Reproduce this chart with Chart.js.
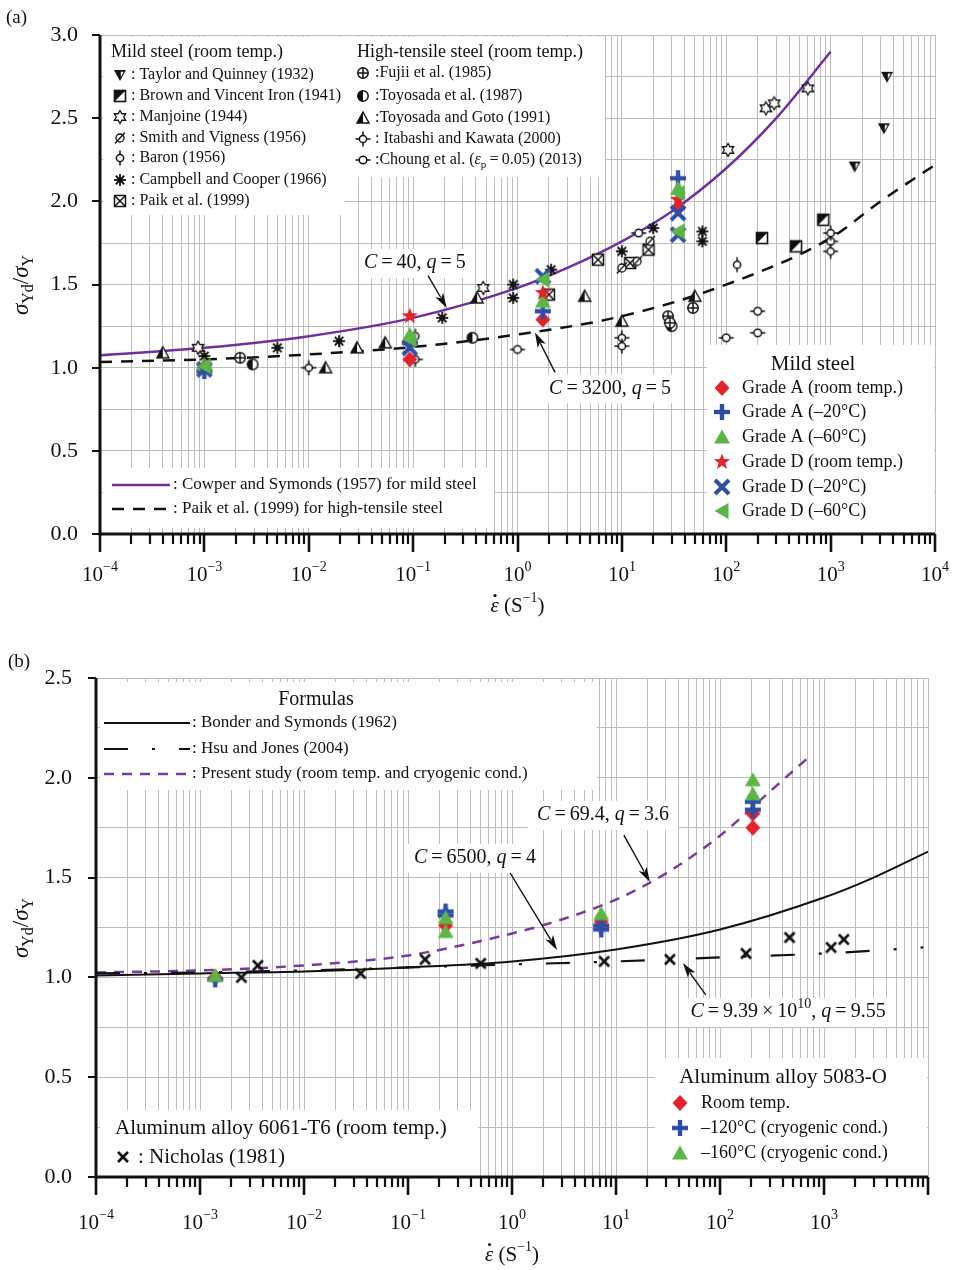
<!DOCTYPE html>
<html>
<head>
<meta charset="utf-8">
<script src="https://cdn.jsdelivr.net/npm/chart.js@4.4.1/dist/chart.umd.min.js"></script>
<style>
  body { margin: 0; background: #fff; width: 956px; height: 1270px; overflow: hidden; }
  canvas { display: block; }
</style>
</head>
<body>
<canvas id="chartA" width="956" height="640"></canvas>
<canvas id="chartB" width="956" height="630"></canvas>
<script>
// ---------- panel (a): mild / high-tensile steel ----------
const xExpA = [-4, -3, -2, -1, 0, 1, 2, 3, 4];
const xExpB = [-4, -3, -2, -1, 0, 1, 2, 3];

const cowperSymonds = [[1e-4, 1.075], [1e-3, 1.12], [1e-2, 1.19], [0.1, 1.30], [1, 1.48], [3, 1.60], [10, 1.76], [30, 1.94], [100, 2.20], [300, 2.50], [1000, 2.90]];
const paikCurve = [[1e-4, 1.035], [1e-3, 1.05], [1e-2, 1.08], [0.1, 1.125], [1, 1.20], [10, 1.31], [100, 1.50], [1000, 1.78], [3000, 2.00], [1e4, 2.22]];

const taylorQuinney = [[3470, 2.75], [3240, 2.44], [1700, 2.21]];
const brownVincent = [[850, 1.89], [220, 1.78], [466, 1.73]];
const manjoine = [[605, 2.68], [240, 2.56], [288, 2.59], [104, 2.31], [0.47, 1.48], [8.7e-4, 1.12]];
const smithVigness = [[10, 1.60], [14, 1.64], [18.6, 1.76]];
const baron = [[127, 1.62], [0.105, 1.19]];
const campbellCooper = [[1.0e-3, 1.07], [5.0e-3, 1.12], [0.0195, 1.16], [0.19, 1.30], [0.91, 1.50], [0.91, 1.42], [2.1, 1.59], [10, 1.70], [20, 1.84], [59, 1.82], [59, 1.76]];
const paikPoints = [[2.0, 1.44], [5.9, 1.65], [18, 1.71], [12, 1.63]];
const fujii = [[2.2e-3, 1.06], [27.7, 1.31], [28.8, 1.27], [48, 1.36]];
const toyosada = [[2.9e-3, 1.02], [0.37, 1.18], [30, 1.25]];
const toyosadaGoto = [[4.0e-4, 1.09], [0.0145, 1.00], [0.029, 1.12], [0.054, 1.15], [0.41, 1.42], [4.4, 1.43], [10, 1.28], [50, 1.43]];
const itabashi = [[0.01, 1.00], [0.105, 1.05], [10, 1.18], [10, 1.13], [1000, 1.81], [1000, 1.70]];
const choung = [[1.0, 1.11], [100, 1.18], [200, 1.34], [200, 1.21], [14.5, 1.81], [1000, 1.76]];

const gradeARoom = [[1.0e-3, 1.00], [0.093, 1.05], [1.75, 1.29], [34.5, 1.96]];
const gradeAm20 = [[1.0e-3, 0.98], [0.093, 1.15], [1.75, 1.34], [34.5, 2.14]];
const gradeAm60 = [[1.0e-3, 1.02], [0.093, 1.20], [1.75, 1.40], [34.5, 2.08]];
const gradeDRoom = [[1.0e-3, 1.00], [0.093, 1.31], [1.75, 1.45], [34.5, 2.01]];
const gradeDm20 = [[1.0e-3, 0.99], [0.093, 1.12], [1.75, 1.55], [34.5, 1.93], [34.5, 1.80]];
const gradeDm60 = [[1.0e-3, 1.01], [0.093, 1.17], [1.75, 1.53], [34.5, 2.05], [34.5, 1.82]];

// ---------- panel (b): aluminium alloys ----------
const bonderSymonds = [[1e-4, 1.01], [1e-3, 1.02], [1e-2, 1.03], [0.1, 1.05], [1, 1.08], [10, 1.14], [100, 1.24], [1000, 1.40], [3000, 1.50], [1e4, 1.63]];
const hsuJones = [[1e-4, 1.02], [1e-3, 1.025], [1e-2, 1.035], [0.1, 1.05], [1, 1.065], [10, 1.08], [100, 1.10], [1000, 1.12], [9000, 1.15]];
const presentStudy = [[1e-4, 1.025], [1e-3, 1.035], [1e-2, 1.06], [0.1, 1.11], [1, 1.22], [3, 1.29], [10, 1.39], [30, 1.52], [100, 1.71], [300, 1.93], [700, 2.10]];

const alRoom = [[1.4e-3, 1.00], [0.23, 1.26], [7.2, 1.28], [207, 1.82], [207, 1.75]];
const alM120 = [[1.4e-3, 0.99], [0.23, 1.33], [0.23, 1.31], [7.2, 1.26], [7.2, 1.24], [207, 1.88], [207, 1.84]];
const alM160 = [[1.4e-3, 1.01], [0.23, 1.30], [0.23, 1.23], [7.2, 1.32], [207, 1.99], [207, 1.92]];
const nicholas = [[2.5e-3, 1.00], [3.6e-3, 1.06], [0.035, 1.02], [0.146, 1.09], [0.50, 1.07], [7.7, 1.08], [33, 1.09], [178, 1.12], [466, 1.20], [1170, 1.15], [1550, 1.19]];

// ---------- styling ----------
const SERIF = '"Liberation Serif", "Times New Roman", serif';
const INK = '#111';
const RED = '#e3222b';
const BLUE = '#2f4ea8';
const GREEN = '#5cb646';
const PURPLE = '#7030a0';
const GRID = '#bdbdbd';

Chart.defaults.font.family = SERIF;
Chart.defaults.animation = false;

function makeMarker(size, paint) {
  const c = document.createElement('canvas');
  c.width = size;
  c.height = size;
  const g = c.getContext('2d');
  g.translate(size / 2, size / 2);
  g.strokeStyle = INK;
  g.fillStyle = INK;
  paint(g);
  return c;
}

function circle(g, r, fill) {
  g.beginPath();
  g.arc(0, 0, r, 0, Math.PI * 2);
  g.fillStyle = fill;
  g.fill();
  g.stroke();
}

function seg(g, x1, y1, x2, y2) {
  g.beginPath();
  g.moveTo(x1, y1);
  g.lineTo(x2, y2);
  g.stroke();
}

const mk = {
  taylor: makeMarker(16, g => {
    g.beginPath(); g.moveTo(-6, -5); g.lineTo(6, -5); g.lineTo(0, 6); g.closePath(); g.fill();
    g.beginPath(); g.moveTo(0.8, -3.3); g.lineTo(3.7, -3.3); g.lineTo(0.8, 2.3); g.closePath();
    g.fillStyle = '#fff'; g.fill();
  }),
  brown: makeMarker(16, g => {
    g.lineWidth = 1.6;
    g.fillStyle = '#fff'; g.fillRect(-5.5, -5.5, 11, 11);
    g.beginPath(); g.moveTo(-5.5, -5.5); g.lineTo(5.5, -5.5); g.lineTo(-5.5, 5.5); g.closePath();
    g.fillStyle = INK; g.fill();
    g.strokeRect(-5.5, -5.5, 11, 11);
  }),
  manjoine: makeMarker(18, g => {
    g.lineWidth = 1.3;
    g.beginPath();
    for (let k = 0; k < 12; k++) {
      const r = k % 2 === 0 ? 6.5 : 3.75;
      const a = -Math.PI / 2 + k * Math.PI / 6;
      k === 0 ? g.moveTo(r * Math.cos(a), r * Math.sin(a)) : g.lineTo(r * Math.cos(a), r * Math.sin(a));
    }
    g.closePath(); g.fillStyle = '#fff'; g.fill(); g.stroke();
  }),
  smith: makeMarker(16, g => {
    g.lineWidth = 1.3; circle(g, 4, '#fff');
    seg(g, -5, 5.5, 5, -5.5);
  }),
  baron: makeMarker(18, g => {
    g.lineWidth = 1.5; circle(g, 3.6, '#fff');
    seg(g, 0, -7.5, 0, -3.6); seg(g, 0, 3.6, 0, 7.5);
  }),
  campbell: makeMarker(16, g => {
    g.lineWidth = 1.8;
    for (let k = 0; k < 4; k++) {
      const a = k * Math.PI / 4;
      seg(g, -6 * Math.cos(a), -6 * Math.sin(a), 6 * Math.cos(a), 6 * Math.sin(a));
    }
    g.beginPath(); g.arc(0, 0, 2.8, 0, Math.PI * 2); g.fill();
  }),
  paik: makeMarker(16, g => {
    g.lineWidth = 1.5;
    g.fillStyle = '#fff'; g.fillRect(-5.5, -5.5, 11, 11);
    g.strokeRect(-5.5, -5.5, 11, 11);
    seg(g, -5.5, -5.5, 5.5, 5.5); seg(g, -5.5, 5.5, 5.5, -5.5);
  }),
  fujii: makeMarker(16, g => {
    g.lineWidth = 1.5; circle(g, 5.2, '#fff');
    seg(g, -5.2, 0, 5.2, 0); seg(g, 0, -5.2, 0, 5.2);
  }),
  toyosada: makeMarker(16, g => {
    g.lineWidth = 1.5; circle(g, 5.2, '#fff');
    g.beginPath(); g.arc(0, 0, 5.2, Math.PI / 2, Math.PI * 1.5); g.closePath();
    g.fillStyle = INK; g.fill();
  }),
  toyoGoto: makeMarker(16, g => {
    g.lineWidth = 1.4;
    g.beginPath(); g.moveTo(0, -6); g.lineTo(6, 5); g.lineTo(-6, 5); g.closePath();
    g.fillStyle = '#fff'; g.fill(); g.stroke();
    g.beginPath(); g.moveTo(0, -6); g.lineTo(0, 5); g.lineTo(-6, 5); g.closePath();
    g.fillStyle = INK; g.fill();
  }),
  itabashi: makeMarker(18, g => {
    g.lineWidth = 1.5;
    seg(g, -7.5, 0, 7.5, 0); seg(g, 0, -7.5, 0, 7.5);
    circle(g, 3.6, '#fff');
  }),
  choung: makeMarker(18, g => {
    g.lineWidth = 1.5;
    seg(g, -7.5, 0, 7.5, 0);
    circle(g, 3.8, '#fff');
  }),
  diamond: makeMarker(20, g => {
    g.beginPath(); g.moveTo(0, -8); g.lineTo(7.5, 0); g.lineTo(0, 8); g.lineTo(-7.5, 0); g.closePath();
    g.fillStyle = RED; g.fill();
  }),
  plus: makeMarker(20, g => {
    g.strokeStyle = BLUE; g.lineWidth = 4.4;
    seg(g, -8, 0, 8, 0); seg(g, 0, -8, 0, 8);
  }),
  triangle: makeMarker(20, g => {
    g.beginPath(); g.moveTo(0, -7.5); g.lineTo(8, 6.5); g.lineTo(-8, 6.5); g.closePath();
    g.fillStyle = GREEN; g.fill();
  }),
  star: makeMarker(20, g => {
    g.beginPath();
    for (let k = 0; k < 10; k++) {
      const r = k % 2 === 0 ? 8.5 : 3.6;
      const a = -Math.PI / 2 + k * Math.PI / 5;
      k === 0 ? g.moveTo(r * Math.cos(a), r * Math.sin(a)) : g.lineTo(r * Math.cos(a), r * Math.sin(a));
    }
    g.closePath(); g.fillStyle = RED; g.fill();
  }),
  cross: makeMarker(20, g => {
    g.strokeStyle = BLUE; g.lineWidth = 4;
    seg(g, -7, -7, 7, 7); seg(g, -7, 7, 7, -7);
  }),
  leftTri: makeMarker(20, g => {
    g.beginPath(); g.moveTo(-7.5, 0); g.lineTo(6.5, -8); g.lineTo(6.5, 8); g.closePath();
    g.fillStyle = GREEN; g.fill();
  }),
  times: makeMarker(16, g => {
    g.lineWidth = 2.6;
    seg(g, -5, -5, 5, 5); seg(g, -5, 5, 5, -5);
  })
};

const pts = arr => arr.map(([x, y]) => ({ x, y }));

function markerSet(label, arr, style) {
  return { label, data: pts(arr), pointStyle: style, pointRadius: 6, showLine: false, order: 1 };
}

function lineSet(label, arr, color, dash, width) {
  return {
    label, data: pts(arr), showLine: true, borderColor: color, borderDash: dash,
    borderWidth: width, pointRadius: 0, cubicInterpolationMode: 'monotone', fill: false, order: 5
  };
}

// every m x 10^e between the bounds -> vertical grid lines and ticks
function logTicks(minExp, maxExp) {
  const out = [];
  for (let e = minExp; e < maxExp; e++) {
    for (let m = 1; m <= 9; m++) out.push({ value: m * Math.pow(10, e), major: m === 1 });
  }
  out.push({ value: Math.pow(10, maxExp), major: true });
  return out;
}

// ---------- text helpers ----------
function fontFor(p, size) {
  const s = p.s ? Math.round(size * 0.68) : size;
  return `${p.i ? 'italic ' : ''}${s}px ${SERIF}`;
}

function rich(ctx, parts, x, y, size, align) {
  ctx.save();
  ctx.textBaseline = 'middle';
  ctx.textAlign = 'left';
  ctx.fillStyle = INK;
  const widths = parts.map(p => { ctx.font = fontFor(p, size); return ctx.measureText(p.t).width; });
  const total = widths.reduce((a, b) => a + b, 0);
  let cx = align === 'center' ? x - total / 2 : align === 'right' ? x - total : x;
  parts.forEach((p, i) => {
    ctx.font = fontFor(p, size);
    const dy = p.s === 'sub' ? size * 0.3 : p.s === 'sup' ? -size * 0.38 : 0;
    ctx.fillText(p.t, cx, y + dy);
    if (p.dot) {
      ctx.beginPath();
      ctx.arc(cx + widths[i] * 0.55, y - size * 0.5, size * 0.075, 0, Math.PI * 2);
      ctx.fill();
    }
    cx += widths[i];
  });
  ctx.restore();
  return total;
}

function text(ctx, t, x, y, size, align) {
  return rich(ctx, [{ t }], x, y, size, align);
}

function whiteBox(ctx, x1, y1, x2, y2) {
  ctx.save();
  ctx.fillStyle = '#fff';
  ctx.fillRect(x1, y1, x2 - x1, y2 - y1);
  ctx.restore();
}

function icon(ctx, style, x, y) {
  ctx.drawImage(style, Math.round(x - style.width / 2), Math.round(y - style.height / 2));
}

function legendLine(ctx, x1, x2, y, color, dash, width) {
  ctx.save();
  ctx.strokeStyle = color;
  ctx.lineWidth = width;
  ctx.setLineDash(dash);
  ctx.beginPath();
  ctx.moveTo(x1, y);
  ctx.lineTo(x2, y);
  ctx.stroke();
  ctx.restore();
}

function arrow(ctx, x1, y1, x2, y2) {
  const a = Math.atan2(y2 - y1, x2 - x1);
  const L = 15, W = 4.5;
  ctx.save();
  ctx.strokeStyle = INK;
  ctx.fillStyle = INK;
  ctx.lineWidth = 1.4;
  ctx.beginPath();
  ctx.moveTo(x1, y1);
  ctx.lineTo(x2 - L * 0.8 * Math.cos(a), y2 - L * 0.8 * Math.sin(a));
  ctx.stroke();
  ctx.beginPath();
  ctx.moveTo(x2, y2);
  ctx.lineTo(x2 - L * Math.cos(a) + W * Math.sin(a), y2 - L * Math.sin(a) - W * Math.cos(a));
  ctx.lineTo(x2 - L * 0.75 * Math.cos(a), y2 - L * 0.75 * Math.sin(a));
  ctx.lineTo(x2 - L * Math.cos(a) - W * Math.sin(a), y2 - L * Math.sin(a) + W * Math.cos(a));
  ctx.closePath();
  ctx.fill();
  ctx.restore();
}

function annotate(chart, note) {
  const ctx = chart.ctx;
  const sx = chart.scales.x, sy = chart.scales.y;
  const px = v => sx.getPixelForValue(v[0]);
  const py = v => sy.getPixelForValue(v[1]);
  const cx = px(note.at), cy = py(note.at);
  whiteBox(ctx, cx - note.w / 2, cy - 14, cx + note.w / 2, cy + 15);
  rich(ctx, note.parts, cx, cy, 20, 'center');
  arrow(ctx, px(note.tail), py(note.tail), px(note.head), py(note.head));
}

function drawAxes(chart, expList, labelY, titleY, yTitle) {
  const ctx = chart.ctx;
  const { left, right, top, bottom } = chart.chartArea;
  const sx = chart.scales.x;
  ctx.save();
  ctx.strokeStyle = INK;
  ctx.lineWidth = 3;
  ctx.beginPath();
  ctx.moveTo(left, top);
  ctx.lineTo(left, bottom);
  ctx.lineTo(right, bottom);
  ctx.stroke();
  sx.ticks.forEach(t => {
    const x = Math.round(sx.getPixelForValue(t.value));
    ctx.lineWidth = t.major ? 2.6 : 2.2;
    ctx.beginPath();
    ctx.moveTo(x, bottom);
    ctx.lineTo(x, bottom + (t.major ? 18 : 10));
    ctx.stroke();
  });
  const sy = chart.scales.y;
  sy.ticks.forEach(t => {
    if (Math.abs(t.value * 2 - Math.round(t.value * 2)) > 1e-6) return;
    const y = Math.round(sy.getPixelForValue(t.value));
    ctx.lineWidth = 2;
    ctx.beginPath();
    ctx.moveTo(left - 8, y);
    ctx.lineTo(left, y);
    ctx.stroke();
  });
  ctx.restore();

  expList.forEach(e => {
    const x = sx.getPixelForValue(Math.pow(10, e));
    rich(ctx, [{ t: '10' }, { t: e < 0 ? '\u2212' + (-e) : String(e), s: 'sup' }], x, labelY, 21, 'center');
  });
  rich(ctx, [{ t: '\u03b5', i: true, dot: true }, { t: ' (S' }, { t: '\u22121', s: 'sup' }, { t: ')' }], (left + right) / 2, titleY, 21, 'center');

  ctx.save();
  ctx.translate(22, yTitle);
  ctx.rotate(-Math.PI / 2);
  rich(ctx, [{ t: '\u03c3', i: true }, { t: 'Yd', s: 'sub' }, { t: '/' }, { t: '\u03c3', i: true }, { t: 'Y', s: 'sub' }], 0, 0, 23, 'center');
  ctx.restore();
}

const halfTick = v => Math.abs(v * 2 - Math.round(v * 2)) < 1e-6 ? v.toFixed(1) : '';

function scalesFor(maxY, minExp, maxExp, yWidth, xHeight, pad) {
  return {
    x: {
      type: 'logarithmic', min: Math.pow(10, minExp), max: Math.pow(10, maxExp),
      afterBuildTicks: s => { s.ticks = logTicks(minExp, maxExp); },
      afterFit: s => { s.height = xHeight; },
      ticks: { display: false },
      grid: { color: GRID, lineWidth: 1, drawTicks: false },
      border: { display: false }
    },
    y: {
      min: 0, max: maxY,
      afterFit: s => { s.width = yWidth; },
      ticks: { stepSize: 0.25, callback: halfTick, color: INK, padding: pad, font: { size: 22, family: SERIF } },
      grid: { color: GRID, lineWidth: 1, drawTicks: false },
      border: { display: false }
    }
  };
}

// ---------- chart (a) ----------
const noteA = [
  { parts: [{ t: 'C', i: true }, { t: '\u2009=\u200940, ' }, { t: 'q', i: true }, { t: '\u2009=\u20095' }],
    at: [0.104, 1.63], tail: [0.139, 1.554], head: [0.21, 1.36], w: 112 },
  { parts: [{ t: 'C', i: true }, { t: '\u2009=\u20093200, ' }, { t: 'q', i: true }, { t: '\u2009=\u20095' }],
    at: [7.7, 0.876], tail: [2.29, 0.972], head: [1.47, 1.212], w: 144 }
];

const panelA = {
  id: 'panelA',
  beforeDatasetsDraw(chart) {
    const ctx = chart.ctx;
    whiteBox(ctx, 103, 37, 345, 215);
    whiteBox(ctx, 345, 37, 605, 177);
    text(ctx, 'Mild steel (room temp.)', 111, 52, 18);
    const mild = [
      [mk.taylor, ': Taylor and Quinney (1932)'],
      [mk.brown, ': Brown and Vincent Iron (1941)'],
      [mk.manjoine, ': Manjoine (1944)'],
      [mk.smith, ': Smith and Vigness (1956)'],
      [mk.baron, ': Baron (1956)'],
      [mk.campbell, ': Campbell and Cooper (1966)'],
      [mk.paik, ': Paik et al. (1999)']
    ];
    const mildY = [75, 96, 117, 138, 158, 180, 201];
    mild.forEach(([m, t], i) => { icon(ctx, m, 120, mildY[i]); text(ctx, t, 131, mildY[i], 16); });

    text(ctx, 'High-tensile steel (room temp.)', 357, 52, 18);
    const high = [
      [mk.fujii, ':Fujii et al. (1985)'],
      [mk.toyosada, ':Toyosada et al. (1987)'],
      [mk.toyoGoto, ':Toyosada and Goto (1991)'],
      [mk.itabashi, ': Itabashi and Kawata (2000)']
    ];
    const highY = [73, 96, 118, 139, 160];
    high.forEach(([m, t], i) => { icon(ctx, m, 363, highY[i]); text(ctx, t, 375, highY[i], 16); });
    icon(ctx, mk.choung, 363, highY[4]);
    rich(ctx, [{ t: ':Choung et al. (' }, { t: '\u03b5', i: true }, { t: 'p', s: 'sub' }, { t: '\u2009=\u20090.05) (2013)' }], 375, highY[4], 16);

    whiteBox(ctx, 103, 468, 494, 528);
    legendLine(ctx, 112, 170, 485, PURPLE, [], 2.5);
    text(ctx, ': Cowper and Symonds (1957) for mild steel', 173, 485, 17);
    legendLine(ctx, 112, 170, 509, INK, [12, 9], 2.5);
    text(ctx, ': Paik et al. (1999) for high-tensile steel', 173, 509, 17);

    whiteBox(ctx, 707, 345, 934, 532);
    text(ctx, 'Mild steel', 813, 364, 21, 'center');
    const grades = [
      [mk.diamond, 'Grade A (room temp.)'],
      [mk.plus, 'Grade A (\u201320\u00b0C)'],
      [mk.triangle, 'Grade A (\u201360\u00b0C)'],
      [mk.star, 'Grade D (room temp.)'],
      [mk.cross, 'Grade D (\u201320\u00b0C)'],
      [mk.leftTri, 'Grade D (\u201360\u00b0C)']
    ];
    const gradeY = [388, 412, 437, 462, 487, 511];
    grades.forEach(([m, t], i) => { icon(ctx, m, 722, gradeY[i]); text(ctx, t, 742, gradeY[i], 18); });
  },
  afterDraw(chart) {
    const ctx = chart.ctx;
    noteA.forEach(n => annotate(chart, n));
    drawAxes(chart, xExpA, 575, 606, 285);
    text(ctx, '(a)', 6, 18, 19);
  }
};

new Chart(document.getElementById('chartA'), {
  type: 'scatter',
  data: {
    datasets: [
      markerSet('Grade D (\u201360\u00b0C)', gradeDm60, mk.leftTri),
      markerSet('Grade D (\u201320\u00b0C)', gradeDm20, mk.cross),
      markerSet('Grade D (room temp.)', gradeDRoom, mk.star),
      markerSet('Grade A (\u201360\u00b0C)', gradeAm60, mk.triangle),
      markerSet('Grade A (\u201320\u00b0C)', gradeAm20, mk.plus),
      markerSet('Grade A (room temp.)', gradeARoom, mk.diamond),
      markerSet('Taylor and Quinney (1932)', taylorQuinney, mk.taylor),
      markerSet('Brown and Vincent Iron (1941)', brownVincent, mk.brown),
      markerSet('Manjoine (1944)', manjoine, mk.manjoine),
      markerSet('Smith and Vigness (1956)', smithVigness, mk.smith),
      markerSet('Baron (1956)', baron, mk.baron),
      markerSet('Campbell and Cooper (1966)', campbellCooper, mk.campbell),
      markerSet('Paik et al. (1999)', paikPoints, mk.paik),
      markerSet('Fujii et al. (1985)', fujii, mk.fujii),
      markerSet('Toyosada et al. (1987)', toyosada, mk.toyosada),
      markerSet('Toyosada and Goto (1991)', toyosadaGoto, mk.toyoGoto),
      markerSet('Itabashi and Kawata (2000)', itabashi, mk.itabashi),
      markerSet('Choung et al. (2013)', choung, mk.choung),
      lineSet('Cowper and Symonds (1957)', cowperSymonds, PURPLE, [], 2.5),
      lineSet('Paik et al. (1999) curve', paikCurve, INK, [12, 9], 2.5)
    ]
  },
  options: {
    responsive: false,
    layout: { padding: { top: 34, right: 21, bottom: 0, left: 0 } },
    scales: scalesFor(3, -4, 4, 100, 106, 22),
    plugins: { legend: { display: false }, tooltip: { enabled: false } }
  },
  plugins: [panelA]
});

// ---------- chart (b) ----------
const noteB = [
  { parts: [{ t: 'C', i: true }, { t: '\u2009=\u200969.4, ' }, { t: 'q', i: true }, { t: '\u2009=\u20093.6' }],
    at: [7.5, 1.814], tail: [11.9, 1.713], head: [21.2, 1.478], w: 150 },
  { parts: [{ t: 'C', i: true }, { t: '\u2009=\u20096500, ' }, { t: 'q', i: true }, { t: '\u2009=\u20094' }],
    at: [0.44, 1.598], tail: [0.96, 1.523], head: [2.71, 1.137], w: 134 },
  { parts: [{ t: 'C', i: true }, { t: '\u2009=\u20099.39\u2009\u00d7\u200910' }, { t: '10', s: 'sup' }, { t: ', ' }, { t: 'q', i: true }, { t: '\u2009=\u20099.55' }],
    at: [451, 0.827], tail: [73, 0.912], head: [44, 1.072], w: 210 }
];

const panelB = {
  id: 'panelB',
  beforeDatasetsDraw(chart) {
    const ctx = chart.ctx;
    whiteBox(ctx, 100, 42, 597, 150);
    text(ctx, 'Formulas', 316, 60, 20, 'center');
    legendLine(ctx, 104, 190, 83, INK, [], 2);
    text(ctx, ': Bonder and Symonds (1962)', 192, 83, 17);
    legendLine(ctx, 104, 190, 109, INK, [24, 24, 3, 24], 2.2);
    text(ctx, ': Hsu and Jones (2004)', 192, 109, 17);
    legendLine(ctx, 104, 190, 134, '#7a3c9c', [10, 8], 2.5);
    text(ctx, ': Present study (room temp. and cryogenic cond.)', 192, 134, 17);

    whiteBox(ctx, 100, 470, 478, 536);
    text(ctx, 'Aluminum alloy 6061-T6 (room temp.)', 115, 488, 21);
    icon(ctx, mk.times, 123, 517);
    text(ctx, ': Nicholas (1981)', 138, 517, 21);

    whiteBox(ctx, 655, 418, 927, 536);
    text(ctx, 'Aluminum alloy 5083-O', 783, 437, 21, 'center');
    const al = [
      [mk.diamond, 'Room temp.'],
      [mk.plus, '\u2013120\u00b0C (cryogenic cond.)'],
      [mk.triangle, '\u2013160\u00b0C (cryogenic cond.)']
    ];
    const alY = [463, 488, 513];
    al.forEach(([m, t], i) => { icon(ctx, m, 680, alY[i]); text(ctx, t, 701, alY[i], 18); });
  },
  afterDraw(chart) {
    const ctx = chart.ctx;
    noteB.forEach(n => annotate(chart, n));
    drawAxes(chart, xExpB, 583, 615, 288);
    text(ctx, '(b)', 8, 22, 19);
  }
};

new Chart(document.getElementById('chartB'), {
  type: 'scatter',
  data: {
    datasets: [
      markerSet('\u2013160\u00b0C (cryogenic cond.)', alM160, mk.triangle),
      markerSet('\u2013120\u00b0C (cryogenic cond.)', alM120, mk.plus),
      markerSet('Room temp.', alRoom, mk.diamond),
      markerSet('Nicholas (1981)', nicholas, mk.times),
      lineSet('Bonder and Symonds (1962)', bonderSymonds, INK, [], 2),
      lineSet('Hsu and Jones (2004)', hsuJones, INK, [24, 24, 3, 24], 2.2),
      lineSet('Present study', presentStudy, '#7a3c9c', [10, 8], 2.5)
    ]
  },
  options: {
    responsive: false,
    layout: { padding: { top: 38, right: 28, bottom: 0, left: 0 } },
    scales: scalesFor(2.5, -4, 4, 96, 93, 24),
    plugins: { legend: { display: false }, tooltip: { enabled: false } }
  },
  plugins: [panelB]
});
</script>
</body>
</html>
